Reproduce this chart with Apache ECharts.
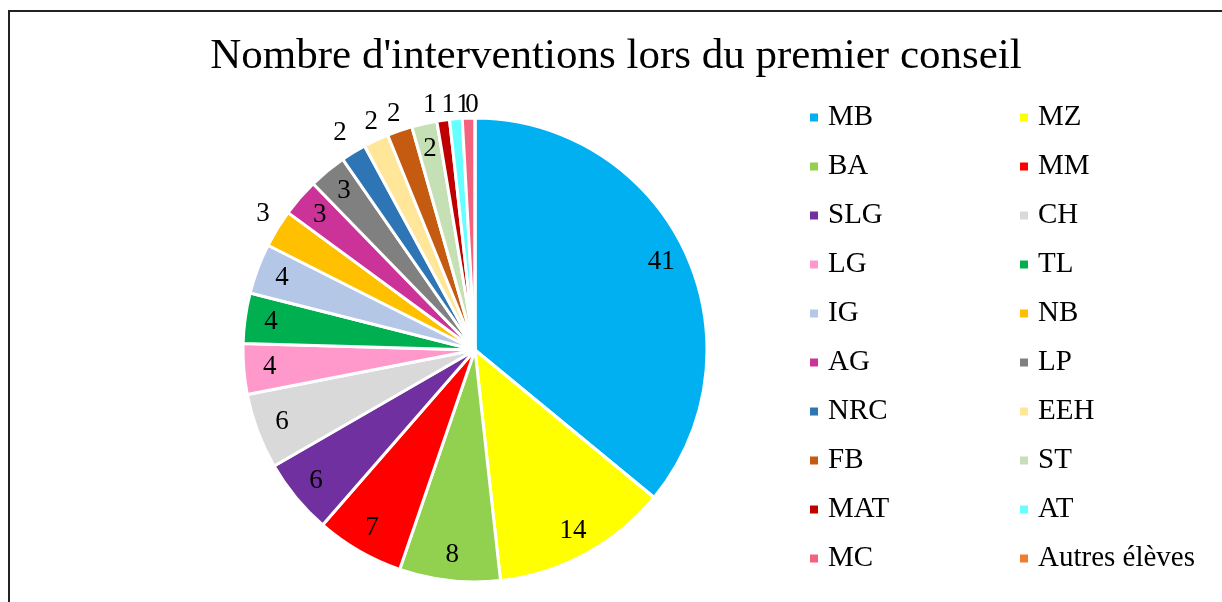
<!DOCTYPE html>
<html>
<head>
<meta charset="utf-8">
<script src="https://cdn.jsdelivr.net/npm/echarts@6/dist/echarts.min.js"></script>
<style>
html,body{margin:0;padding:0;background:#fff;}
#chart{width:1222px;height:602px;}
</style>
</head>
<body>
<div id="chart"></div>
<script>
var names = ['MB','MZ','BA','MM','SLG','CH','LG','TL','IG','NB','AG','LP','NRC','EEH','FB','ST','MAT','AT','MC','Autres élèves'];
var values = [41,14,8,7,6,6,4,4,4,3,3,3,2,2,2,2,1,1,1,0];
var colors = ['#00B0F0','#FFFF00','#92D050','#FF0000','#7030A0','#D9D9D9','#FF99CC','#00B050','#B4C7E7','#FFC000','#CC3399','#808080','#2E75B6','#FFE699','#C55A11','#C5E0B4','#C00000','#66FFFF','#F4627E','#ED7D31'];
var outsideLabel = ['NB','NRC','EEH','FB','MAT','AT','MC','Autres élèves'];
var legendCol1 = ['MB','BA','SLG','LG','IG','AG','NRC','FB','MAT','MC'];
var legendCol2 = ['MZ','MM','CH','TL','NB','LP','EEH','ST','AT','Autres élèves'];
var titleText = "Nombre d'interventions lors du premier conseil";

var FONT = '"Liberation Serif","Times New Roman",serif';
var CX = 475, CY = 350, R = 232;
var R_IN_LABEL = 206, R_OUT_LABEL = 250;
// small nudges mimicking Excel's best-fit placement of crowded outside labels
var labelNudge = {'NB':[1,-5],'NRC':[-4,-4],'EEH':[3,-2],'MAT':[-11,3],'AT':[-6,4],'MC':[-5,5],'Autres élèves':[-3,5]};

var total = values.reduce(function(a,b){return a+b;},0);
var cum = 0;
var labelPoints = names.map(function(n,i){
  var mid = cum + values[i]/2;
  cum += values[i];
  var outside = outsideLabel.indexOf(n) >= 0;
  var p = {
    name:n,
    value:[outside ? R_OUT_LABEL : R_IN_LABEL, mid],
    label:{formatter: String(values[i])}
  };
  if (labelNudge[n]) p.label.offset = labelNudge[n];
  return p;
});

var mainData = names.map(function(n,i){
  return {name:n, value:values[i], itemStyle:{color:colors[i]}};
});

var chart = echarts.init(document.getElementById('chart'), null, {renderer:'canvas'});

function legendCfg(data, left){
  return {
    orient:'vertical', left:left, top:103, padding:0,
    data: data, icon:'rect', itemWidth:10, itemHeight:10, itemGap:20,
    selectedMode:false,
    textStyle:{fontFamily:FONT, fontSize:29, color:'#000', lineHeight:29, padding:[0,0,0,4]}
  };
}

chart.setOption({
  animation:false,
  color: colors,
  legend:[legendCfg(legendCol1, 808), legendCfg(legendCol2, 1018)],
  polar:{center:[CX,CY], radius:300},
  angleAxis:{type:'value', min:0, max:total, startAngle:90, clockwise:true, show:false},
  radiusAxis:{type:'value', min:0, max:300, show:false},
  graphic:[
    {type:'rect', shape:{x:9, y:11, width:1400, height:800}, style:{fill:'none', stroke:'#222', lineWidth:2}, silent:true},
    {type:'text', style:{x:616, y:57, text:titleText, font:'43px ' + FONT, fill:'#000', textAlign:'center', textVerticalAlign:'middle'}}
  ],
  series:[
    {
      type:'pie', center:[CX,CY], radius:[0,R], startAngle:90, clockwise:true,
      avoidLabelOverlap:false, minAngle:0, silent:true,
      label:{show:false}, labelLine:{show:false},
      itemStyle:{borderColor:'#fff', borderWidth:3},
      data: mainData
    },
    {
      type:'scatter', coordinateSystem:'polar', silent:true,
      symbolSize:1, itemStyle:{color:'rgba(0,0,0,0)', opacity:1},
      label:{show:true, position:'inside', fontFamily:FONT, fontSize:27, color:'#000', opacity:1},
      data: labelPoints,
      z:5
    }
  ]
});
</script>
</body>
</html>
